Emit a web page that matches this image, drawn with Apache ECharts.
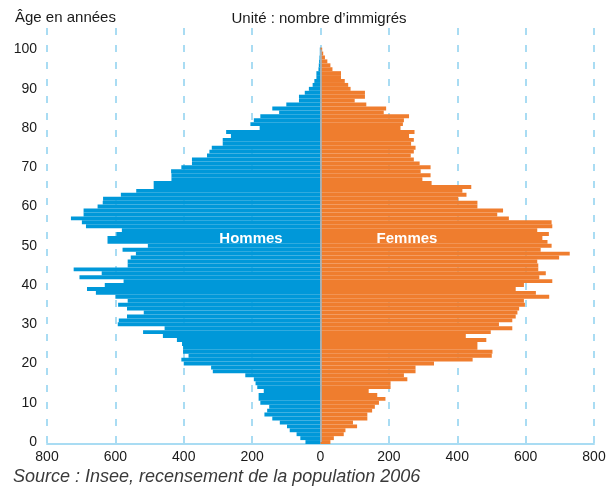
<!DOCTYPE html>
<html>
<head>
<meta charset="utf-8">
<script src="https://cdn.jsdelivr.net/npm/echarts@6/dist/echarts.min.js"></script>
<style>
  html, body { margin: 0; padding: 0; background: #fff; }
  #chart { width: 616px; height: 490px; }
</style>
</head>
<body>
<div id="chart"></div>
<script>
// âges 0 à 100 (+ quelques lignes vides en haut pour la grille)
let ages = [];
for (let i = 0; i <= 105; i++) ages.push(String(i));

// nombre d'immigrés hommes, par âge de 0 à 100
let hommes = [
    44, 59, 70, 90, 98, 119, 141, 164, 156, 150,
    176, 181, 181, 166, 185, 190, 195, 220, 315, 320,
    400, 407, 386, 402, 402, 405, 420, 461, 519, 456,
    593, 590, 566, 517, 566, 592, 564, 600, 657, 683,
    631, 576, 705, 640, 722, 564, 564, 555, 540, 579,
    505, 623, 623, 597, 581, 686, 698, 730, 693, 693,
    652, 637, 636, 584, 539, 488, 488, 436, 436, 437,
    407, 376, 376, 332, 325, 318, 286, 286, 262, 276,
    178, 205, 195, 176, 121, 141, 100, 63, 63, 46,
    34, 23, 18, 12, 12, 6, 5, 4, 3, 2,
    2
];

// nombre d'immigrées femmes, par âge de 0 à 100
let femmes = [
    29, 39, 68, 73, 107, 95, 137, 137, 151, 159,
    171, 190, 166, 141, 205, 205, 254, 244, 278, 278,
    332, 445, 501, 503, 459, 459, 485, 425, 498, 561,
    522, 561, 571, 576, 581, 598, 595, 669, 630, 571,
    595, 678, 640, 659, 637, 637, 634, 698, 729, 644,
    676, 664, 649, 668, 634, 678, 676, 551, 517, 534,
    459, 459, 403, 427, 415, 441, 325, 298, 322, 293,
    322, 290, 273, 264, 273, 278, 265, 273, 259, 275,
    234, 241, 244, 259, 185, 192, 134, 100, 130, 130,
    88, 81, 71, 60, 60, 35, 29, 20, 13, 8,
    5
];

let xTicks = [-800, 800, 200];

function drawPyramid() {
    let myChart = echarts.init(document.getElementById('chart'));
    let font = 'Liberation Sans, Arial, sans-serif';

    let option = {
        animation: false,
        textStyle: {
            fontFamily: font
        },
        grid: {
            left: 47,
            right: 22,
            top: 28,
            bottom: 46,
            containLabel: false
        },
        xAxis: {
            type: 'value',
            min: xTicks[0],
            max: xTicks[1],
            interval: xTicks[2],
            axisLine: {
                show: true,
                lineStyle: { color: '#a9dcf3', width: 2 }
            },
            axisTick: { show: false },
            axisLabel: {
                color: '#1a1a1a',
                fontSize: 14,
                margin: 6,
                formatter: function(value) {
                    return Math.abs(value);
                }
            },
            // lignes verticales en pointillés
            splitLine: {
                show: true,
                lineStyle: {
                    color: '#a9dcf3',
                    width: 2,
                    type: [7, 10]
                }
            }
        },
        yAxis: {
            type: 'category',
            data: ages,
            axisLine: { show: false },
            axisTick: { show: false },
            axisLabel: {
                color: '#1a1a1a',
                fontSize: 14,
                margin: 10,
                interval: function(index) {
                    return index % 10 === 0 && index <= 100;
                }
            }
        },
        series: [
            {
                name: 'Hommes',
                type: 'bar',
                barCategoryGap: '0%',
                barGap: '-100%',
                itemStyle: { color: '#0098d9' },
                data: hommes.map(v => -v)
            },
            {
                name: 'Femmes',
                type: 'bar',
                barCategoryGap: '0%',
                barGap: '-100%',
                itemStyle: { color: '#ef7d2e' },
                data: femmes,
                // axe central
                markLine: {
                    silent: true,
                    symbol: 'none',
                    label: { show: false },
                    lineStyle: { color: '#9fb9c8', width: 1.5, type: 'solid' },
                    data: [
                        [{ coord: [0, 0] }, { coord: [0, 100] }]
                    ]
                }
            }
        ],
        graphic: [
            {
                type: 'text',
                left: 15,
                top: 10,
                z: 100,
                style: { text: 'Âge en années', fontSize: 15, fill: '#1a1a1a', fontFamily: font }
            },
            {
                type: 'text',
                x: 319,
                y: 19,
                z: 100,
                style: { text: 'Unité : nombre d\u2019immigrés', fontSize: 15, fill: '#1a1a1a', align: 'center', verticalAlign: 'middle', fontFamily: font }
            },
            {
                type: 'text',
                x: 251,
                y: 239,
                z: 100,
                style: { text: 'Hommes', fontSize: 15, fontWeight: 'bold', fill: '#fff', align: 'center', verticalAlign: 'middle', fontFamily: font }
            },
            {
                type: 'text',
                x: 407,
                y: 239,
                z: 100,
                style: { text: 'Femmes', fontSize: 15, fontWeight: 'bold', fill: '#fff', align: 'center', verticalAlign: 'middle', fontFamily: font }
            },
            {
                type: 'text',
                left: 13,
                top: 468,
                z: 100,
                style: { text: 'Source : Insee, recensement de la population 2006', fontSize: 18, fontStyle: 'italic', fill: '#3a3a3a', fontFamily: font }
            }
        ]
    };

    myChart.setOption(option);
}
drawPyramid();
</script>
</body>
</html>
